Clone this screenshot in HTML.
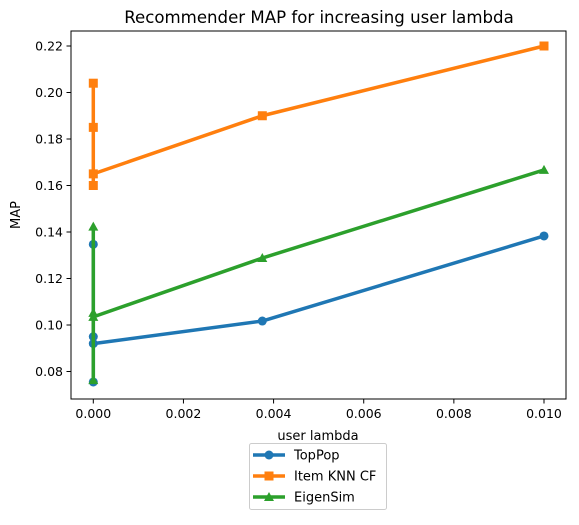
<!DOCTYPE html>
<html><head><meta charset="utf-8"><style>
body{margin:0;background:#fff}
text{font-family:"DejaVu Sans","Liberation Sans",sans-serif;fill:#000}
</style></head><body>
<svg id="chart" width="579" height="520" xmlns="http://www.w3.org/2000/svg">
<rect width="579" height="520" fill="#fff"/>
<text x="319" y="23" font-size="16.6" text-anchor="middle">Recommender MAP for increasing user lambda</text>
<g id="plot"></g>
<rect x="71" y="31" width="495" height="368" fill="none" stroke="#000" stroke-width="1"/>
<text x="318" y="440" font-size="13" text-anchor="middle">user lambda</text>
<text x="20" y="215" font-size="13" text-anchor="middle" transform="rotate(-90 20 215)">MAP</text>
<g id="legend"></g>
</svg>
<script>
const xTicks=[0,0.002,0.004,0.006,0.008,0.010];
const xTickLabels=["0.000","0.002","0.004","0.006","0.008","0.010"];
const yTicks=[0.08,0.10,0.12,0.14,0.16,0.18,0.20,0.22];
const yTickLabels=["0.08","0.10","0.12","0.14","0.16","0.18","0.20","0.22"];
const lambdas=[0,0,0,0,0.00375,0.01];
const topPop=[0.0755,0.1347,0.095,0.092,0.1017,0.1383];
const itemKnn=[0.160,0.204,0.185,0.165,0.190,0.220];
const eigenSim=[0.0763,0.1423,0.1052,0.1035,0.1288,0.1667];
const seriesNames=["TopPop","Item KNN CF","EigenSim"];
const NS="http://www.w3.org/2000/svg";
function X(v){return 93.3+v*45070;}
function Y(v){return 46+(0.22-v)/0.02*46.5;}
function mk(t,a,p){const e=document.createElementNS(NS,t);for(const k in a)e.setAttribute(k,a[k]);p.appendChild(e);return e;}
const plot=document.getElementById('plot');
xTicks.forEach((t,i)=>{
 const l=mk('line',{x1:X(t),x2:X(t),y1:399,y2:403.5,stroke:'#000'},plot);
 
 
 const tx=mk('text',{x:X(t),y:418,'font-size':12.5,'text-anchor':'middle'},plot);
 tx.textContent=xTickLabels[i];
 
 
});
yTicks.forEach((t,i)=>{
 const l=mk('line',{x1:66.5,x2:71,y1:Y(t),y2:Y(t),stroke:'#000'},plot);
 
 
 const tx=mk('text',{x:63,y:Y(t)+4.5,'font-size':12.5,'text-anchor':'end'},plot);
 tx.textContent=yTickLabels[i];
 
 
});
function marker(type,x,y,c,p){
 if(type==='o')return mk('circle',{cx:x,cy:y,r:4.5,fill:c},p);
 if(type==='s')return mk('rect',{x:x-4.5,y:y-4.5,width:9,height:9,fill:c},p);
 return mk('polygon',{points:`${x},${y-5} ${x+5},${y+4} ${x-5},${y+4}`,fill:c},p);
}
const series=[[topPop,'#1f77b4','o'],[itemKnn,'#ff7f0e','s'],[eigenSim,'#2ca02c','^']];
series.forEach(([vals,c,m],si)=>{
 const g=mk('g',{},plot);
 
 
 const pts=vals.map((v,i)=>X(lambdas[i])+','+Y(v)).join(' ');
 mk('polyline',{points:pts,fill:'none',stroke:c,'stroke-width':3.5,'stroke-linejoin':'round'},g);
 vals.forEach((v,i)=>{
  const e=marker(m,X(lambdas[i]),Y(v),c,g);
  
  
 });
});
const lg=document.getElementById('legend');
mk('rect',{x:249.5,y:443.5,width:137,height:66,rx:2,fill:'#fff',stroke:'#ccc'},lg);
series.forEach(([vals,c,m],i)=>{
 const y=455+i*21;
 const g=mk('g',{},lg);
 
 
 mk('line',{x1:253,x2:285,y1:y,y2:y,stroke:c,'stroke-width':3.5},g);
 marker(m,269,y,c,g);
 const t=mk('text',{x:294,y:y+4.5,'font-size':13},g);
 t.textContent=seriesNames[i];
});
</script>
</body></html>
